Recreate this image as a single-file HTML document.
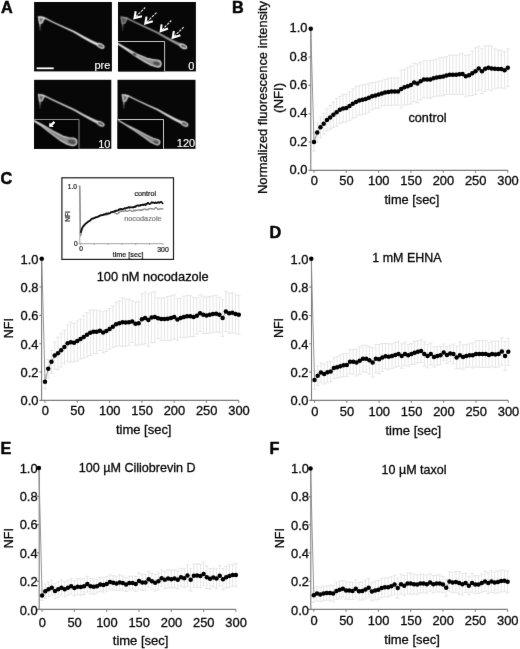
<!DOCTYPE html>
<html><head><meta charset="utf-8"><title>Figure</title>
<style>html,body{margin:0;padding:0;background:#fff}body{width:520px;height:649px;overflow:hidden}svg{display:block;font-family:"Liberation Sans", sans-serif}</style>
</head><body>
<svg width="520" height="649" viewBox="0 0 520 649">
<defs>
<filter id="b1" x="-25%" y="-25%" width="150%" height="150%" color-interpolation-filters="sRGB"><feConvolveMatrix order="3" kernelMatrix="1 2 1 2 4 2 1 2 1" divisor="16" edgeMode="duplicate" preserveAlpha="false"/></filter>
<filter id="b2" x="-25%" y="-25%" width="150%" height="150%" color-interpolation-filters="sRGB"><feConvolveMatrix order="3" kernelMatrix="1 2 1 2 4 2 1 2 1" divisor="16" edgeMode="duplicate" preserveAlpha="false" result="a"/><feConvolveMatrix in="a" order="3" kernelMatrix="1 2 1 2 4 2 1 2 1" divisor="16" edgeMode="duplicate" preserveAlpha="false"/></filter>
<filter id="bt" x="-25%" y="-25%" width="150%" height="150%" color-interpolation-filters="sRGB"><feConvolveMatrix order="3" kernelMatrix="0 1 0 1 4 1 0 1 0" divisor="8" edgeMode="duplicate" preserveAlpha="false"/></filter>
<filter id="soft" x="0" y="0" width="100%" height="100%" filterUnits="userSpaceOnUse" color-interpolation-filters="sRGB"><feConvolveMatrix order="3" kernelMatrix="0 1 0 1 14 1 0 1 0" divisor="18" edgeMode="duplicate" preserveAlpha="false"/></filter>
</defs>
<g filter="url(#soft)">
<rect width="520" height="649" fill="#fff"/>
<g id="panelA">
<rect x="34.1" y="2" width="77.8" height="69.4" fill="#070707"/>
<rect x="118" y="2" width="77.9" height="69.4" fill="#070707"/>
<rect x="34.1" y="79.8" width="77.2" height="69" fill="#070707"/>
<rect x="117.5" y="79.8" width="78" height="69" fill="#070707"/>
<g filter="url(#bt)">
<path d="M40 22.4L40 26.5" stroke="#969696" stroke-width="1.5" stroke-linecap="round"/>
<path d="M40 26.5L40 30" stroke="#505050" stroke-width="1.2" stroke-linecap="round"/>
<path d="M38.5 16.7L44.5 17.9L41.9 22.9L39.6 23.2Z" fill="#787878" stroke="#cdcdcd" stroke-width="1.5" stroke-linejoin="round"/>
<polygon points="40.46,17.66 43.74,18.32 52.93,22.76 64.51,28.24 73.6,32.58 82.98,38.14 90.52,42.43 97.06,45.83 98.34,43.17 91.68,40.17 84.02,36.26 74.4,31.02 65.09,26.96 53.47,21.64 44.26,17.08 40.74,16.34" fill="#e1e1e1"/>
<ellipse cx="100.7" cy="45.9" rx="3.6" ry="1.8" transform="rotate(27 100.7 45.9)" fill="#5f5f5f" stroke="#e1e1e1" stroke-width="1.2"/>
</g>
<g filter="url(#bt)">
<path d="M122.6 22.8L122.6 26.9" stroke="#616161" stroke-width="1.5" stroke-linecap="round"/>
<path d="M122.6 26.9L122.6 30.4" stroke="#343434" stroke-width="1.2" stroke-linecap="round"/>
<path d="M121.1 17.1L127.1 18.3L124.5 23.3L122.2 23.6Z" fill="#4e4e4e" stroke="#858585" stroke-width="1.5" stroke-linejoin="round"/>
<polygon points="123.06,18.06 126.34,18.72 135.53,23.16 147.11,28.64 156.2,32.98 165.58,38.54 173.12,42.83 179.66,46.23 180.94,43.57 174.28,40.57 166.62,36.66 157,31.42 147.69,27.36 136.07,22.04 126.86,17.48 123.34,16.74" fill="#969696"/>
<ellipse cx="183.3" cy="46.3" rx="3.6" ry="1.8" transform="rotate(27 183.3 46.3)" fill="#5f5f5f" stroke="#e1e1e1" stroke-width="1.2"/>
</g>
<g filter="url(#bt)">
<path d="M40 100.3L40 104.4" stroke="#8a8a8a" stroke-width="1.5" stroke-linecap="round"/>
<path d="M40 104.4L40 107.9" stroke="#494949" stroke-width="1.2" stroke-linecap="round"/>
<path d="M38.5 94.6L44.5 95.8L41.9 100.8L39.6 101.1Z" fill="#6e6e6e" stroke="#bcbcbc" stroke-width="1.5" stroke-linejoin="round"/>
<polygon points="40.46,95.56 43.74,96.22 52.93,100.66 64.51,106.14 73.6,110.48 82.98,116.04 90.52,120.33 97.06,123.73 98.34,121.07 91.68,118.07 84.02,114.16 74.4,108.92 65.09,104.86 53.47,99.54 44.26,94.98 40.74,94.24" fill="#cfcfcf"/>
<ellipse cx="100.7" cy="123.8" rx="3.6" ry="1.8" transform="rotate(27 100.7 123.8)" fill="#575757" stroke="#cfcfcf" stroke-width="1.2"/>
</g>
<g filter="url(#bt)">
<path d="M123.8 100.4L123.8 104.5" stroke="#8e8e8e" stroke-width="1.5" stroke-linecap="round"/>
<path d="M123.8 104.5L123.8 108" stroke="#4c4c4c" stroke-width="1.2" stroke-linecap="round"/>
<path d="M122.3 94.7L128.3 95.9L125.7 100.9L123.4 101.2Z" fill="#727272" stroke="#c2c2c2" stroke-width="1.5" stroke-linejoin="round"/>
<polygon points="124.26,95.66 127.54,96.32 136.73,100.76 148.31,106.24 157.4,110.58 166.78,116.14 174.32,120.43 180.86,123.83 182.14,121.17 175.48,118.17 167.82,114.26 158.2,109.02 148.89,104.96 137.27,99.64 128.06,95.08 124.54,94.34" fill="#d5d5d5"/>
<ellipse cx="184.5" cy="123.9" rx="3.6" ry="1.8" transform="rotate(27 184.5 123.9)" fill="#5a5a5a" stroke="#d5d5d5" stroke-width="1.2"/>
</g>
<rect x="118" y="41.5" width="46.6" height="29.9" fill="#050505"/>
<clipPath id="ci2"><rect x="118" y="41.5" width="46.6" height="29.9"/></clipPath>
<g clip-path="url(#ci2)"><g filter="url(#bt)">
<path d="M118.16 43.55L126.29 48.33L136.62 53.91L146.86 58.34L152.82 59.57L158.41 60.22A3.45 3.45 0 0 1 156.99 66.98L151.18 65.23L145.14 62.06L135.38 56.09L125.71 49.27L117.84 44.05Z" fill="#909090" stroke="#e0e0e0" stroke-width="1.1" stroke-linejoin="round"/>
<ellipse cx="134.6" cy="54.3" rx="2.0" ry="0.9" transform="rotate(31 134.6 54.3)" fill="#2c2c2c"/>
<ellipse cx="156.5" cy="63.5" rx="3.45" ry="1.86" transform="rotate(15 156.5 63.5)" fill="#505050"/>
</g></g>
<path d="M118 41.5H164.6V71.4" fill="none" stroke="#c4c4c4" stroke-width="1"/>
<rect x="34.1" y="119.5" width="44.9" height="29.3" fill="#050505"/>
<clipPath id="ci3"><rect x="34.1" y="119.5" width="44.9" height="29.3"/></clipPath>
<g clip-path="url(#ci3)"><g filter="url(#bt)">
<path d="M34.17 120.5L42.4 124.77L52.85 131.01L63.22 136.36L68.99 137.7L73.7 138.01A3.95 3.95 0 0 1 72.3 145.79L67.01 144.3L60.78 140.84L51.15 133.59L41.6 126.03L33.83 121.1Z" fill="#8a8a8a" stroke="#d8d8d8" stroke-width="1.1" stroke-linejoin="round"/>
<ellipse cx="71.8" cy="141.8" rx="3.95" ry="2.13" transform="rotate(15 71.8 141.8)" fill="#505050"/>
</g></g>
<path d="M34.1 119.5H79V148.8" fill="none" stroke="#8c8c8c" stroke-width="1"/>
<rect x="117.5" y="119.5" width="46" height="29.3" fill="#050505"/>
<clipPath id="ci4"><rect x="117.5" y="119.5" width="46" height="29.3"/></clipPath>
<g clip-path="url(#ci4)"><g filter="url(#bt)">
<path d="M118.35 120.21L126.13 124.68L136.48 129.78L146.85 135.19L153.02 138.19L158.19 139.84A2.65 2.65 0 0 1 156.21 144.76L150.98 142.21L145.15 138.01L135.52 131.42L125.87 125.12L118.25 120.39Z" fill="#848484" stroke="#cccccc" stroke-width="1.1" stroke-linejoin="round"/>
<ellipse cx="156" cy="142.2" rx="2.65" ry="1.43" transform="rotate(15 156 142.2)" fill="#505050"/>
</g></g>
<path d="M117.5 119.5H163.5V148.8" fill="none" stroke="#cacaca" stroke-width="1"/>
<g>
<path d="M135.7 11.3L134.5 18.1L142 16.2" fill="none" stroke="#fff" stroke-width="2.1" stroke-linejoin="miter" stroke-linecap="butt"/>
<path d="M135.78 16.83L145.2 7.5" stroke="#f0f0f0" stroke-width="1.1" stroke-dasharray="2.6 1.1" fill="none"/>
<path d="M146.5 16.6L145.3 23.4L152.8 21.2" fill="none" stroke="#fff" stroke-width="2.1" stroke-linejoin="miter" stroke-linecap="butt"/>
<path d="M146.66 22.09L156.6 12.5" stroke="#f0f0f0" stroke-width="1.1" stroke-dasharray="2.6 1.1" fill="none"/>
<path d="M161.6 24.3L160.7 31.2L168 28.6" fill="none" stroke="#fff" stroke-width="2.1" stroke-linejoin="miter" stroke-linecap="butt"/>
<path d="M161.97 29.92L171.3 20.5" stroke="#f0f0f0" stroke-width="1.1" stroke-dasharray="2.6 1.1" fill="none"/>
<path d="M173.9 31L172.7 37.8L180.4 35.3" fill="none" stroke="#fff" stroke-width="2.1" stroke-linejoin="miter" stroke-linecap="butt"/>
<path d="M174.01 36.53L183.6 27.2" stroke="#f0f0f0" stroke-width="1.1" stroke-dasharray="2.6 1.1" fill="none"/>
<path d="M49.0 126.8 L49.5 122.6 L50.8 123.8 L53.6 121.0 L55.3 122.8 L52.5 125.6 L53.6 126.9 Z" fill="#fff"/>
</g>
<rect x="36.6" y="67.4" width="17.1" height="1.8" fill="#fff"/>
<g font-size="11" fill="#fff" stroke="#fff" stroke-width="0.15" text-anchor="end">
<text x="110.4" y="68.7">pre</text>
<text x="194.4" y="69.6">0</text>
<text x="110.4" y="147.5">10</text>
<text x="195.2" y="147.2">120</text>
</g>
</g>
<g font-weight="bold" font-size="16.2" fill="#050505" stroke="#050505" stroke-width="0.5">
<text x="1" y="12.9" font-size="16.2">A</text>
<text x="231.9" y="12.8" font-size="16.2">B</text>
<text x="0.6" y="183.6" font-size="16.2">C</text>
<text x="269.4" y="237.8" font-size="16.2">D</text>
<text x="0.4" y="453.8" font-size="16.2">E</text>
<text x="269.6" y="453.8" font-size="16.2">F</text>
</g>
<g id="chartB">
<path d="M314 132.96V151.16M312.2 132.96h3.6M312.2 151.16h3.6M317.23 122.94V141.91M315.43 122.94h3.6M315.43 141.91h3.6M320.46 116.83V137.53M318.66 116.83h3.6M318.66 137.53h3.6M323.69 113.5V134.07M321.89 113.5h3.6M321.89 134.07h3.6M326.92 109V130.91M325.12 109h3.6M325.12 130.91h3.6M330.15 105.61V129.2M328.35 105.61h3.6M328.35 129.2h3.6M333.38 101.95V127.76M331.58 101.95h3.6M331.58 127.76h3.6M336.61 98.41V126.2M334.81 98.41h3.6M334.81 126.2h3.6M339.84 96.32V123.19M338.04 96.32h3.6M338.04 123.19h3.6M343.07 94.49V122.46M341.27 94.49h3.6M341.27 122.46h3.6M346.3 94.03V122.07M344.5 94.03h3.6M344.5 122.07h3.6M349.53 91.49V120.36M347.73 91.49h3.6M347.73 120.36h3.6M352.76 88.86V118.74M350.96 88.86h3.6M350.96 118.74h3.6M355.99 86.74V117.46M354.19 86.74h3.6M354.19 117.46h3.6M359.22 85.78V115.02M357.42 85.78h3.6M357.42 115.02h3.6M362.45 84.96V114.42M360.65 84.96h3.6M360.65 114.42h3.6M365.68 84.45V113.8M363.88 84.45h3.6M363.88 113.8h3.6M368.91 83.19V112.22M367.11 83.19h3.6M367.11 112.22h3.6M372.14 82.61V109.97M370.34 82.61h3.6M370.34 109.97h3.6M375.37 82.28V108.6M373.57 82.28h3.6M373.57 108.6h3.6M378.6 81.07V108.11M376.8 81.07h3.6M376.8 108.11h3.6M381.83 80.95V105.97M380.03 80.95h3.6M380.03 105.97h3.6M385.06 79.39V105.54M383.26 79.39h3.6M383.26 105.54h3.6M388.29 78.46V105.34M386.49 78.46h3.6M386.49 105.34h3.6M391.52 77.73V105.22M389.72 77.73h3.6M389.72 105.22h3.6M394.75 77.92V105.02M392.95 77.92h3.6M392.95 105.02h3.6M397.98 77.91V105.03M396.18 77.91h3.6M396.18 105.03h3.6M401.21 70.09V107.75M399.41 70.09h3.6M399.41 107.75h3.6M404.44 69.21V105.23M402.64 69.21h3.6M402.64 105.23h3.6M407.67 67.7V104.76M405.87 67.7h3.6M405.87 104.76h3.6M410.9 66.01V103.9M409.1 66.01h3.6M409.1 103.9h3.6M414.13 63.39V101.7M412.33 63.39h3.6M412.33 101.7h3.6M417.36 63.88V102.91M415.56 63.88h3.6M415.56 102.91h3.6M420.59 62.45V99.81M418.79 62.45h3.6M418.79 99.81h3.6M423.82 60.93V97.93M422.02 60.93h3.6M422.02 97.93h3.6M427.05 60.92V97.93M425.25 60.92h3.6M425.25 97.93h3.6M430.28 60.5V98.36M428.48 60.5h3.6M428.48 98.36h3.6M433.51 59.89V96.7M431.71 59.89h3.6M431.71 96.7h3.6M436.74 59.15V96.02M434.94 59.15h3.6M434.94 96.02h3.6M439.97 57.66V96.09M438.17 57.66h3.6M438.17 96.09h3.6M443.2 57.24V95.66M441.4 57.24h3.6M441.4 95.66h3.6M446.43 56.46V94.46M444.63 56.46h3.6M444.63 94.46h3.6M449.66 55.08V94.42M447.86 55.08h3.6M447.86 94.42h3.6M452.89 55.21V94.29M451.09 55.21h3.6M451.09 94.29h3.6M456.12 55.41V94.1M454.32 55.41h3.6M454.32 94.1h3.6M459.35 54.1V94.55M457.55 54.1h3.6M457.55 94.55h3.6M462.58 53.46V94.63M460.78 53.46h3.6M460.78 94.63h3.6M465.81 55.3V97.04M464.01 55.3h3.6M464.01 97.04h3.6M469.04 54.87V95.76M467.24 54.87h3.6M467.24 95.76h3.6M472.27 51V95.67M470.47 51h3.6M470.47 95.67h3.6M475.5 47.82V94.6M473.7 47.82h3.6M473.7 94.6h3.6M478.73 46.39V90.36M476.93 46.39h3.6M476.93 90.36h3.6M481.96 48.8V93.62M480.16 48.8h3.6M480.16 93.62h3.6M485.19 45.75V91.56M483.39 45.75h3.6M483.39 91.56h3.6M488.42 45.76V89.58M486.62 45.76h3.6M486.62 89.58h3.6M491.65 45.98V90.77M489.85 45.98h3.6M489.85 90.77h3.6M494.88 48.92V88.68M493.08 48.92h3.6M493.08 88.68h3.6M498.11 50.21V87.96M496.31 50.21h3.6M496.31 87.96h3.6M501.34 50.16V88.01M499.54 50.16h3.6M499.54 88.01h3.6M504.57 51.62V88.81M502.77 51.62h3.6M502.77 88.81h3.6M507.8 48.9V86.71M506 48.9h3.6M506 86.71h3.6" stroke="#e5e5e5" stroke-width="1" fill="none"/>
<path d="M310.8 28.7V170.4H507.8M310.8 170.4h-2.3M310.8 142.06h-2.3M310.8 113.72h-2.3M310.8 85.38h-2.3M310.8 57.04h-2.3M310.8 28.7h-2.3M314 170.4v2.3M346.3 170.4v2.3M378.6 170.4v2.3M410.9 170.4v2.3M443.2 170.4v2.3M475.5 170.4v2.3M507.8 170.4v2.3" stroke="#7d7d7d" stroke-width="1.1" fill="none"/>
<polyline points="310.77,28.7 314,142.06 317.23,132.42 320.46,127.18 323.69,123.78 326.92,119.95 330.15,117.4 333.38,114.85 336.61,112.3 339.84,109.75 343.07,108.48 346.3,108.05 349.53,105.93 352.76,103.8 355.99,102.1 359.22,100.4 362.45,99.69 365.68,99.12 368.91,97.71 372.14,96.29 375.37,95.44 378.6,94.59 381.83,93.46 385.06,92.46 388.29,91.9 391.52,91.47 394.75,91.47 397.98,91.47 401.21,88.92 404.44,87.22 407.67,86.23 410.9,84.95 414.13,82.55 417.36,83.4 420.59,81.13 423.82,79.43 427.05,79.43 430.28,79.43 433.51,78.29 436.74,77.59 439.97,76.88 443.2,76.45 446.43,75.46 449.66,74.75 452.89,74.75 456.12,74.75 459.35,74.33 462.58,74.04 465.81,76.17 469.04,75.32 472.27,73.34 475.5,71.21 478.73,68.38 481.96,71.21 485.19,68.66 488.42,67.67 491.65,68.38 494.88,68.8 498.11,69.08 501.34,69.08 504.57,70.22 507.8,67.81" stroke="#8a8a8a" stroke-width="0.9" fill="none"/>
<circle cx="310.77" cy="28.7" r="2.25"/>
<circle cx="314" cy="142.06" r="2.25"/>
<circle cx="317.23" cy="132.42" r="2.25"/>
<circle cx="320.46" cy="127.18" r="2.25"/>
<circle cx="323.69" cy="123.78" r="2.25"/>
<circle cx="326.92" cy="119.95" r="2.25"/>
<circle cx="330.15" cy="117.4" r="2.25"/>
<circle cx="333.38" cy="114.85" r="2.25"/>
<circle cx="336.61" cy="112.3" r="2.25"/>
<circle cx="339.84" cy="109.75" r="2.25"/>
<circle cx="343.07" cy="108.48" r="2.25"/>
<circle cx="346.3" cy="108.05" r="2.25"/>
<circle cx="349.53" cy="105.93" r="2.25"/>
<circle cx="352.76" cy="103.8" r="2.25"/>
<circle cx="355.99" cy="102.1" r="2.25"/>
<circle cx="359.22" cy="100.4" r="2.25"/>
<circle cx="362.45" cy="99.69" r="2.25"/>
<circle cx="365.68" cy="99.12" r="2.25"/>
<circle cx="368.91" cy="97.71" r="2.25"/>
<circle cx="372.14" cy="96.29" r="2.25"/>
<circle cx="375.37" cy="95.44" r="2.25"/>
<circle cx="378.6" cy="94.59" r="2.25"/>
<circle cx="381.83" cy="93.46" r="2.25"/>
<circle cx="385.06" cy="92.46" r="2.25"/>
<circle cx="388.29" cy="91.9" r="2.25"/>
<circle cx="391.52" cy="91.47" r="2.25"/>
<circle cx="394.75" cy="91.47" r="2.25"/>
<circle cx="397.98" cy="91.47" r="2.25"/>
<circle cx="401.21" cy="88.92" r="2.25"/>
<circle cx="404.44" cy="87.22" r="2.25"/>
<circle cx="407.67" cy="86.23" r="2.25"/>
<circle cx="410.9" cy="84.95" r="2.25"/>
<circle cx="414.13" cy="82.55" r="2.25"/>
<circle cx="417.36" cy="83.4" r="2.25"/>
<circle cx="420.59" cy="81.13" r="2.25"/>
<circle cx="423.82" cy="79.43" r="2.25"/>
<circle cx="427.05" cy="79.43" r="2.25"/>
<circle cx="430.28" cy="79.43" r="2.25"/>
<circle cx="433.51" cy="78.29" r="2.25"/>
<circle cx="436.74" cy="77.59" r="2.25"/>
<circle cx="439.97" cy="76.88" r="2.25"/>
<circle cx="443.2" cy="76.45" r="2.25"/>
<circle cx="446.43" cy="75.46" r="2.25"/>
<circle cx="449.66" cy="74.75" r="2.25"/>
<circle cx="452.89" cy="74.75" r="2.25"/>
<circle cx="456.12" cy="74.75" r="2.25"/>
<circle cx="459.35" cy="74.33" r="2.25"/>
<circle cx="462.58" cy="74.04" r="2.25"/>
<circle cx="465.81" cy="76.17" r="2.25"/>
<circle cx="469.04" cy="75.32" r="2.25"/>
<circle cx="472.27" cy="73.34" r="2.25"/>
<circle cx="475.5" cy="71.21" r="2.25"/>
<circle cx="478.73" cy="68.38" r="2.25"/>
<circle cx="481.96" cy="71.21" r="2.25"/>
<circle cx="485.19" cy="68.66" r="2.25"/>
<circle cx="488.42" cy="67.67" r="2.25"/>
<circle cx="491.65" cy="68.38" r="2.25"/>
<circle cx="494.88" cy="68.8" r="2.25"/>
<circle cx="498.11" cy="69.08" r="2.25"/>
<circle cx="501.34" cy="69.08" r="2.25"/>
<circle cx="504.57" cy="70.22" r="2.25"/>
<circle cx="507.8" cy="67.81" r="2.25"/>
<g font-size="12.9" fill="#080808" stroke="#080808" stroke-width="0.3">
<text x="307.4" y="174.2" font-size="12.9" text-anchor="end">0.0</text>
<text x="307.4" y="145.8" font-size="12.9" text-anchor="end">0.2</text>
<text x="307.4" y="117.4" font-size="12.9" text-anchor="end">0.4</text>
<text x="307.4" y="89" font-size="12.9" text-anchor="end">0.6</text>
<text x="307.4" y="60.6" font-size="12.9" text-anchor="end">0.8</text>
<text x="307.4" y="32.2" font-size="12.9" text-anchor="end">1.0</text>
<text x="314.3" y="185.2" font-size="12.9" text-anchor="middle">0</text>
<text x="346.5" y="185.2" font-size="12.9" text-anchor="middle">50</text>
<text x="378.8" y="185.2" font-size="12.9" text-anchor="middle">100</text>
<text x="411.1" y="185.2" font-size="12.9" text-anchor="middle">150</text>
<text x="443.4" y="185.2" font-size="12.9" text-anchor="middle">200</text>
<text x="475.7" y="185.2" font-size="12.9" text-anchor="middle">250</text>
<text x="508" y="185.2" font-size="12.9" text-anchor="middle">300</text>
</g>
</g>
<g id="chartC">
<path d="M45 374.84V388.83M43.2 374.84h3.6M43.2 388.83h3.6M48.23 359.32V378M46.43 359.32h3.6M46.43 378h3.6M51.46 350.45V373.27M49.66 350.45h3.6M49.66 373.27h3.6M54.69 341.94V369.02M52.89 341.94h3.6M52.89 369.02h3.6M57.92 337.11V369.6M56.12 337.11h3.6M56.12 369.6h3.6M61.15 333.55V366.92M59.35 333.55h3.6M59.35 366.92h3.6M64.38 330.18V363.78M62.58 330.18h3.6M62.58 363.78h3.6M67.61 324.87V361.44M65.81 324.87h3.6M65.81 361.44h3.6M70.84 322.25V362.35M69.04 322.25h3.6M69.04 362.35h3.6M74.07 323.55V361.9M72.27 323.55h3.6M72.27 361.9h3.6M77.3 320.86V360.91M75.5 320.86h3.6M75.5 360.91h3.6M80.53 319.14V358.95M78.73 319.14h3.6M78.73 358.95h3.6M83.76 315.58V358.26M81.96 315.58h3.6M81.96 358.26h3.6M86.99 312.51V357.08M85.19 312.51h3.6M85.19 357.08h3.6M90.22 310.2V355.42M88.42 310.2h3.6M88.42 355.42h3.6M93.45 309.84V353.79M91.65 309.84h3.6M91.65 353.79h3.6M96.68 310.22V353.42M94.88 310.22h3.6M94.88 353.42h3.6M99.91 310.82V350.54M98.11 310.82h3.6M98.11 350.54h3.6M103.14 311.75V353.02M101.34 311.75h3.6M101.34 353.02h3.6M106.37 310.76V351.45M104.57 310.76h3.6M104.57 351.45h3.6M109.6 308.57V349.39M107.8 308.57h3.6M107.8 349.39h3.6M112.83 306.19V347.53M111.03 306.19h3.6M111.03 347.53h3.6M116.06 302.22V346.39M114.26 302.22h3.6M114.26 346.39h3.6M119.29 300.68V345.95M117.49 300.68h3.6M117.49 345.95h3.6M122.52 297.82V346.54M120.72 297.82h3.6M120.72 346.54h3.6M125.75 299.08V346.14M123.95 299.08h3.6M123.95 346.14h3.6M128.98 298.97V345.39M127.18 298.97h3.6M127.18 345.39h3.6M132.21 300.71V342.52M130.41 300.71h3.6M130.41 342.52h3.6M135.44 302.28V345.2M133.64 302.28h3.6M133.64 345.2h3.6M138.67 301.7V344.93M136.87 301.7h3.6M136.87 344.93h3.6M141.9 293.74V344.67M140.1 293.74h3.6M140.1 344.67h3.6M145.13 291.98V343.89M143.33 291.98h3.6M143.33 343.89h3.6M148.36 293.9V346.21M146.56 293.9h3.6M146.56 346.21h3.6M151.59 292.4V342.62M149.79 292.4h3.6M149.79 342.62h3.6M154.82 291.58V342.29M153.02 291.58h3.6M153.02 342.29h3.6M158.05 298.01V338.7M156.25 298.01h3.6M156.25 338.7h3.6M161.28 297.97V340.16M159.48 297.97h3.6M159.48 340.16h3.6M164.51 297.86V340.27M162.71 297.86h3.6M162.71 340.27h3.6M167.74 296.52V340.76M165.94 296.52h3.6M165.94 340.76h3.6M170.97 295.77V340.09M169.17 295.77h3.6M169.17 340.09h3.6M174.2 294.69V339.19M172.4 294.69h3.6M172.4 339.19h3.6M177.43 298.63V340.35M175.63 298.63h3.6M175.63 340.35h3.6M180.66 298.11V337.75M178.86 298.11h3.6M178.86 337.75h3.6M183.89 296.26V337.61M182.09 296.26h3.6M182.09 337.61h3.6M187.12 295.33V337.13M185.32 295.33h3.6M185.32 337.13h3.6M190.35 295.71V336.75M188.55 295.71h3.6M188.55 336.75h3.6M193.58 297.35V336.52M191.78 297.35h3.6M191.78 336.52h3.6M196.81 297.83V333.78M195.01 297.83h3.6M195.01 333.78h3.6M200.04 295.03V331.48M198.24 295.03h3.6M198.24 331.48h3.6M203.27 296.1V333.53M201.47 296.1h3.6M201.47 333.53h3.6M206.5 297V333.76M204.7 297h3.6M204.7 333.76h3.6M209.73 296.66V332.97M207.93 296.66h3.6M207.93 332.97h3.6M212.96 295.82V332.39M211.16 295.82h3.6M211.16 332.39h3.6M216.19 295.32V332.04M214.39 295.32h3.6M214.39 332.04h3.6M219.42 297.24V332.38M217.62 297.24h3.6M217.62 332.38h3.6M222.65 299.29V336.58M220.85 299.29h3.6M220.85 336.58h3.6M225.88 291.62V331.49M224.08 291.62h3.6M224.08 331.49h3.6M229.11 293.19V333.32M227.31 293.19h3.6M227.31 333.32h3.6M232.34 292.73V332.65M230.54 292.73h3.6M230.54 332.65h3.6M235.57 294.7V333.51M233.77 294.7h3.6M233.77 333.51h3.6M238.8 295.4V334.23M237 295.4h3.6M237 334.23h3.6" stroke="#e5e5e5" stroke-width="1" fill="none"/>
<path d="M41.6 258.7V400.4H238.8M41.6 400.4h-2.3M41.6 372.06h-2.3M41.6 343.72h-2.3M41.6 315.38h-2.3M41.6 287.04h-2.3M41.6 258.7h-2.3M45 400.4v2.3M77.3 400.4v2.3M109.6 400.4v2.3M141.9 400.4v2.3M174.2 400.4v2.3M206.5 400.4v2.3M238.8 400.4v2.3" stroke="#7d7d7d" stroke-width="1.1" fill="none"/>
<polyline points="41.77,258.7 45,381.84 48.23,368.66 51.46,361.86 54.69,355.48 57.92,353.36 61.15,350.24 64.38,346.98 67.61,343.15 70.84,342.3 74.07,342.73 77.3,340.89 80.53,339.04 83.76,336.92 86.99,334.79 90.22,332.81 93.45,331.82 96.68,331.82 99.91,330.68 103.14,332.38 106.37,331.11 109.6,328.98 112.83,326.86 116.06,324.31 119.29,323.32 122.52,322.18 125.75,322.61 128.98,322.18 132.21,321.61 135.44,323.74 138.67,323.32 141.9,319.21 145.13,317.93 148.36,320.06 151.59,317.51 154.82,316.94 158.05,318.36 161.28,319.06 164.51,319.06 167.74,318.64 170.97,317.93 174.2,316.94 177.43,319.49 180.66,317.93 183.89,316.94 187.12,316.23 190.35,316.23 193.58,316.94 196.81,315.81 200.04,313.25 203.27,314.81 206.5,315.38 209.73,314.81 212.96,314.1 216.19,313.68 219.42,314.81 222.65,317.93 225.88,311.55 229.11,313.25 232.34,312.69 235.57,314.1 238.8,314.81" stroke="#8a8a8a" stroke-width="0.9" fill="none"/>
<circle cx="41.77" cy="258.7" r="2.25"/>
<circle cx="45" cy="381.84" r="2.25"/>
<circle cx="48.23" cy="368.66" r="2.25"/>
<circle cx="51.46" cy="361.86" r="2.25"/>
<circle cx="54.69" cy="355.48" r="2.25"/>
<circle cx="57.92" cy="353.36" r="2.25"/>
<circle cx="61.15" cy="350.24" r="2.25"/>
<circle cx="64.38" cy="346.98" r="2.25"/>
<circle cx="67.61" cy="343.15" r="2.25"/>
<circle cx="70.84" cy="342.3" r="2.25"/>
<circle cx="74.07" cy="342.73" r="2.25"/>
<circle cx="77.3" cy="340.89" r="2.25"/>
<circle cx="80.53" cy="339.04" r="2.25"/>
<circle cx="83.76" cy="336.92" r="2.25"/>
<circle cx="86.99" cy="334.79" r="2.25"/>
<circle cx="90.22" cy="332.81" r="2.25"/>
<circle cx="93.45" cy="331.82" r="2.25"/>
<circle cx="96.68" cy="331.82" r="2.25"/>
<circle cx="99.91" cy="330.68" r="2.25"/>
<circle cx="103.14" cy="332.38" r="2.25"/>
<circle cx="106.37" cy="331.11" r="2.25"/>
<circle cx="109.6" cy="328.98" r="2.25"/>
<circle cx="112.83" cy="326.86" r="2.25"/>
<circle cx="116.06" cy="324.31" r="2.25"/>
<circle cx="119.29" cy="323.32" r="2.25"/>
<circle cx="122.52" cy="322.18" r="2.25"/>
<circle cx="125.75" cy="322.61" r="2.25"/>
<circle cx="128.98" cy="322.18" r="2.25"/>
<circle cx="132.21" cy="321.61" r="2.25"/>
<circle cx="135.44" cy="323.74" r="2.25"/>
<circle cx="138.67" cy="323.32" r="2.25"/>
<circle cx="141.9" cy="319.21" r="2.25"/>
<circle cx="145.13" cy="317.93" r="2.25"/>
<circle cx="148.36" cy="320.06" r="2.25"/>
<circle cx="151.59" cy="317.51" r="2.25"/>
<circle cx="154.82" cy="316.94" r="2.25"/>
<circle cx="158.05" cy="318.36" r="2.25"/>
<circle cx="161.28" cy="319.06" r="2.25"/>
<circle cx="164.51" cy="319.06" r="2.25"/>
<circle cx="167.74" cy="318.64" r="2.25"/>
<circle cx="170.97" cy="317.93" r="2.25"/>
<circle cx="174.2" cy="316.94" r="2.25"/>
<circle cx="177.43" cy="319.49" r="2.25"/>
<circle cx="180.66" cy="317.93" r="2.25"/>
<circle cx="183.89" cy="316.94" r="2.25"/>
<circle cx="187.12" cy="316.23" r="2.25"/>
<circle cx="190.35" cy="316.23" r="2.25"/>
<circle cx="193.58" cy="316.94" r="2.25"/>
<circle cx="196.81" cy="315.81" r="2.25"/>
<circle cx="200.04" cy="313.25" r="2.25"/>
<circle cx="203.27" cy="314.81" r="2.25"/>
<circle cx="206.5" cy="315.38" r="2.25"/>
<circle cx="209.73" cy="314.81" r="2.25"/>
<circle cx="212.96" cy="314.1" r="2.25"/>
<circle cx="216.19" cy="313.68" r="2.25"/>
<circle cx="219.42" cy="314.81" r="2.25"/>
<circle cx="222.65" cy="317.93" r="2.25"/>
<circle cx="225.88" cy="311.55" r="2.25"/>
<circle cx="229.11" cy="313.25" r="2.25"/>
<circle cx="232.34" cy="312.69" r="2.25"/>
<circle cx="235.57" cy="314.1" r="2.25"/>
<circle cx="238.8" cy="314.81" r="2.25"/>
<g font-size="12.9" fill="#080808" stroke="#080808" stroke-width="0.3">
<text x="38.4" y="405.2" font-size="12.9" text-anchor="end">0.0</text>
<text x="38.4" y="376.86" font-size="12.9" text-anchor="end">0.2</text>
<text x="38.4" y="348.52" font-size="12.9" text-anchor="end">0.4</text>
<text x="38.4" y="320.18" font-size="12.9" text-anchor="end">0.6</text>
<text x="38.4" y="291.84" font-size="12.9" text-anchor="end">0.8</text>
<text x="38.4" y="263.5" font-size="12.9" text-anchor="end">1.0</text>
<text x="45.3" y="415.3" font-size="12.9" text-anchor="middle">0</text>
<text x="77.5" y="415.3" font-size="12.9" text-anchor="middle">50</text>
<text x="109.8" y="415.3" font-size="12.9" text-anchor="middle">100</text>
<text x="142.1" y="415.3" font-size="12.9" text-anchor="middle">150</text>
<text x="174.4" y="415.3" font-size="12.9" text-anchor="middle">200</text>
<text x="206.7" y="415.3" font-size="12.9" text-anchor="middle">250</text>
<text x="239" y="415.3" font-size="12.9" text-anchor="middle">300</text>
</g>
</g>
<g id="chartD">
<path d="M314.5 370.79V389.23M312.7 370.79h3.6M312.7 389.23h3.6M317.73 365.97V385.55M315.93 365.97h3.6M315.93 385.55h3.6M320.96 362.9V382.11M319.16 362.9h3.6M319.16 382.11h3.6M324.19 364.18V383.95M322.39 364.18h3.6M322.39 383.95h3.6M327.42 362.1V382.63M325.62 362.1h3.6M325.62 382.63h3.6M330.65 361.21V381.81M328.85 361.21h3.6M328.85 381.81h3.6M333.88 357.61V378.62M332.08 357.61h3.6M332.08 378.62h3.6M337.11 356.5V378.03M335.31 356.5h3.6M335.31 378.03h3.6M340.34 354.93V377.34M338.54 354.93h3.6M338.54 377.34h3.6M343.57 353.69V376.59M341.77 353.69h3.6M341.77 376.59h3.6M346.8 353.46V376.54M345 353.46h3.6M345 376.54h3.6M350.03 349.63V373.86M348.23 349.63h3.6M348.23 373.86h3.6M353.26 349.5V373.98M351.46 349.5h3.6M351.46 373.98h3.6M356.49 348.97V375.94M354.69 348.97h3.6M354.69 375.94h3.6M359.72 347.01V374.5M357.92 347.01h3.6M357.92 374.5h3.6M362.95 345.37V372.17M361.15 345.37h3.6M361.15 372.17h3.6M366.18 345.13V372.13M364.38 345.13h3.6M364.38 372.13h3.6M369.41 346.58V374.08M367.61 346.58h3.6M367.61 374.08h3.6M372.64 347.86V377.04M370.84 347.86h3.6M370.84 377.04h3.6M375.87 344.29V372.97M374.07 344.29h3.6M374.07 372.97h3.6M379.1 344.58V373.81M377.3 344.58h3.6M377.3 373.81h3.6M382.33 343.52V371.47M380.53 343.52h3.6M380.53 371.47h3.6M385.56 343.51V368.93M383.76 343.51h3.6M383.76 368.93h3.6M388.79 343.92V369.38M386.99 343.92h3.6M386.99 369.38h3.6M392.02 343.7V368.45M390.22 343.7h3.6M390.22 368.45h3.6M395.25 342.56V367.34M393.45 342.56h3.6M393.45 367.34h3.6M398.48 341.35V366.56M396.68 341.35h3.6M396.68 366.56h3.6M401.71 343.88V368.28M399.91 343.88h3.6M399.91 368.28h3.6M404.94 342.13V365.78M403.14 342.13h3.6M403.14 365.78h3.6M408.17 344.59V366.15M406.37 344.59h3.6M406.37 366.15h3.6M411.4 343.28V364.63M409.6 343.28h3.6M409.6 364.63h3.6M414.63 341.43V364.22M412.83 341.43h3.6M412.83 364.22h3.6M417.86 340.76V362.9M416.06 340.76h3.6M416.06 362.9h3.6M421.09 339.77V362.48M419.29 339.77h3.6M419.29 362.48h3.6M424.32 341.68V366.24M422.52 341.68h3.6M422.52 366.24h3.6M427.55 344.36V367.8M425.75 344.36h3.6M425.75 367.8h3.6M430.78 343.01V364.9M428.98 343.01h3.6M428.98 364.9h3.6M434.01 347.02V367.12M432.21 347.02h3.6M432.21 367.12h3.6M437.24 346.66V365.49M435.44 346.66h3.6M435.44 365.49h3.6M440.47 346.45V364.29M438.67 346.45h3.6M438.67 364.29h3.6M443.7 344.04V360.75M441.9 344.04h3.6M441.9 360.75h3.6M446.93 346.53V363.36M445.13 346.53h3.6M445.13 363.36h3.6M450.16 345.23V361.83M448.36 345.23h3.6M448.36 361.83h3.6M453.39 344.2V363.71M451.59 344.2h3.6M451.59 363.71h3.6M456.62 346.1V368.89M454.82 346.1h3.6M454.82 368.89h3.6M459.85 341.95V368.8M458.05 341.95h3.6M458.05 368.8h3.6M463.08 344.87V369.27M461.28 344.87h3.6M461.28 369.27h3.6M466.31 344.77V367.39M464.51 344.77h3.6M464.51 367.39h3.6M469.54 343.74V367M467.74 343.74h3.6M467.74 367h3.6M472.77 342.72V368.02M470.97 342.72h3.6M470.97 368.02h3.6M476 340.81V367.1M474.2 340.81h3.6M474.2 367.1h3.6M479.23 340.63V367.28M477.43 340.63h3.6M477.43 367.28h3.6M482.46 340.39V367.52M480.66 340.39h3.6M480.66 367.52h3.6M485.69 340.6V367.31M483.89 340.6h3.6M483.89 367.31h3.6M488.92 342.28V367.62M487.12 342.28h3.6M487.12 367.62h3.6M492.15 341.14V366.77M490.35 341.14h3.6M490.35 366.77h3.6M495.38 341.57V367.47M493.58 341.57h3.6M493.58 367.47h3.6M498.61 340.93V366.98M496.81 340.93h3.6M496.81 366.98h3.6M501.84 337.63V365.18M500.04 337.63h3.6M500.04 365.18h3.6M505.07 341.63V370.53M503.27 341.63h3.6M503.27 370.53h3.6M508.3 338.33V365.33M506.5 338.33h3.6M506.5 365.33h3.6" stroke="#e5e5e5" stroke-width="1" fill="none"/>
<path d="M311.5 258.8V400.4H508.3M311.5 400.4h-2.3M311.5 372.08h-2.3M311.5 343.76h-2.3M311.5 315.44h-2.3M311.5 287.12h-2.3M311.5 258.8h-2.3M314.5 400.4v2.3M346.8 400.4v2.3M379.1 400.4v2.3M411.4 400.4v2.3M443.7 400.4v2.3M476 400.4v2.3M508.3 400.4v2.3" stroke="#7d7d7d" stroke-width="1.1" fill="none"/>
<polyline points="311.27,258.8 314.5,380.01 317.73,375.76 320.96,372.5 324.19,374.06 327.42,372.36 330.65,371.51 333.88,368.12 337.11,367.27 340.34,366.13 343.57,365.14 346.8,365 350.03,361.74 353.26,361.74 356.49,362.45 359.72,360.75 362.95,358.77 366.18,358.63 369.41,360.33 372.64,362.45 375.87,358.63 379.1,359.19 382.33,357.5 385.56,356.22 388.79,356.65 392.02,356.08 395.25,354.95 398.48,353.96 401.71,356.08 404.94,353.96 408.17,355.37 411.4,353.96 414.63,352.82 417.86,351.83 421.09,351.12 424.32,353.96 427.55,356.08 430.78,353.96 434.01,357.07 437.24,356.08 440.47,355.37 443.7,352.4 446.93,354.95 450.16,353.53 453.39,353.96 456.62,357.5 459.85,355.37 463.08,357.07 466.31,356.08 469.54,355.37 472.77,355.37 476,353.96 479.23,353.96 482.46,353.96 485.69,353.96 488.92,354.95 492.15,353.96 495.38,354.52 498.61,353.96 501.84,351.41 505.07,356.08 508.3,351.83" stroke="#8a8a8a" stroke-width="0.9" fill="none"/>
<circle cx="311.27" cy="258.8" r="2.25"/>
<circle cx="314.5" cy="380.01" r="2.25"/>
<circle cx="317.73" cy="375.76" r="2.25"/>
<circle cx="320.96" cy="372.5" r="2.25"/>
<circle cx="324.19" cy="374.06" r="2.25"/>
<circle cx="327.42" cy="372.36" r="2.25"/>
<circle cx="330.65" cy="371.51" r="2.25"/>
<circle cx="333.88" cy="368.12" r="2.25"/>
<circle cx="337.11" cy="367.27" r="2.25"/>
<circle cx="340.34" cy="366.13" r="2.25"/>
<circle cx="343.57" cy="365.14" r="2.25"/>
<circle cx="346.8" cy="365" r="2.25"/>
<circle cx="350.03" cy="361.74" r="2.25"/>
<circle cx="353.26" cy="361.74" r="2.25"/>
<circle cx="356.49" cy="362.45" r="2.25"/>
<circle cx="359.72" cy="360.75" r="2.25"/>
<circle cx="362.95" cy="358.77" r="2.25"/>
<circle cx="366.18" cy="358.63" r="2.25"/>
<circle cx="369.41" cy="360.33" r="2.25"/>
<circle cx="372.64" cy="362.45" r="2.25"/>
<circle cx="375.87" cy="358.63" r="2.25"/>
<circle cx="379.1" cy="359.19" r="2.25"/>
<circle cx="382.33" cy="357.5" r="2.25"/>
<circle cx="385.56" cy="356.22" r="2.25"/>
<circle cx="388.79" cy="356.65" r="2.25"/>
<circle cx="392.02" cy="356.08" r="2.25"/>
<circle cx="395.25" cy="354.95" r="2.25"/>
<circle cx="398.48" cy="353.96" r="2.25"/>
<circle cx="401.71" cy="356.08" r="2.25"/>
<circle cx="404.94" cy="353.96" r="2.25"/>
<circle cx="408.17" cy="355.37" r="2.25"/>
<circle cx="411.4" cy="353.96" r="2.25"/>
<circle cx="414.63" cy="352.82" r="2.25"/>
<circle cx="417.86" cy="351.83" r="2.25"/>
<circle cx="421.09" cy="351.12" r="2.25"/>
<circle cx="424.32" cy="353.96" r="2.25"/>
<circle cx="427.55" cy="356.08" r="2.25"/>
<circle cx="430.78" cy="353.96" r="2.25"/>
<circle cx="434.01" cy="357.07" r="2.25"/>
<circle cx="437.24" cy="356.08" r="2.25"/>
<circle cx="440.47" cy="355.37" r="2.25"/>
<circle cx="443.7" cy="352.4" r="2.25"/>
<circle cx="446.93" cy="354.95" r="2.25"/>
<circle cx="450.16" cy="353.53" r="2.25"/>
<circle cx="453.39" cy="353.96" r="2.25"/>
<circle cx="456.62" cy="357.5" r="2.25"/>
<circle cx="459.85" cy="355.37" r="2.25"/>
<circle cx="463.08" cy="357.07" r="2.25"/>
<circle cx="466.31" cy="356.08" r="2.25"/>
<circle cx="469.54" cy="355.37" r="2.25"/>
<circle cx="472.77" cy="355.37" r="2.25"/>
<circle cx="476" cy="353.96" r="2.25"/>
<circle cx="479.23" cy="353.96" r="2.25"/>
<circle cx="482.46" cy="353.96" r="2.25"/>
<circle cx="485.69" cy="353.96" r="2.25"/>
<circle cx="488.92" cy="354.95" r="2.25"/>
<circle cx="492.15" cy="353.96" r="2.25"/>
<circle cx="495.38" cy="354.52" r="2.25"/>
<circle cx="498.61" cy="353.96" r="2.25"/>
<circle cx="501.84" cy="351.41" r="2.25"/>
<circle cx="505.07" cy="356.08" r="2.25"/>
<circle cx="508.3" cy="351.83" r="2.25"/>
<g font-size="12.9" fill="#080808" stroke="#080808" stroke-width="0.3">
<text x="308.5" y="405.1" font-size="12.9" text-anchor="end">0.0</text>
<text x="308.5" y="376.8" font-size="12.9" text-anchor="end">0.2</text>
<text x="308.5" y="348.5" font-size="12.9" text-anchor="end">0.4</text>
<text x="308.5" y="320.2" font-size="12.9" text-anchor="end">0.6</text>
<text x="308.5" y="291.9" font-size="12.9" text-anchor="end">0.8</text>
<text x="308.5" y="263.6" font-size="12.9" text-anchor="end">1.0</text>
<text x="314.8" y="415.8" font-size="12.9" text-anchor="middle">0</text>
<text x="347" y="415.8" font-size="12.9" text-anchor="middle">50</text>
<text x="379.3" y="415.8" font-size="12.9" text-anchor="middle">100</text>
<text x="411.6" y="415.8" font-size="12.9" text-anchor="middle">150</text>
<text x="443.9" y="415.8" font-size="12.9" text-anchor="middle">200</text>
<text x="476.2" y="415.8" font-size="12.9" text-anchor="middle">250</text>
<text x="508.5" y="415.8" font-size="12.9" text-anchor="middle">300</text>
</g>
</g>
<g id="chartE">
<path d="M42.1 590.54V600.56M40.3 590.54h3.6M40.3 600.56h3.6M45.33 584.02V598.6M43.53 584.02h3.6M43.53 598.6h3.6M48.56 582.17V596.5M46.76 582.17h3.6M46.76 596.5h3.6M51.79 580.1V595.18M49.99 580.1h3.6M49.99 595.18h3.6M55.02 583.2V598.58M53.22 583.2h3.6M53.22 598.58h3.6M58.25 581.57V597.1M56.45 581.57h3.6M56.45 597.1h3.6M61.48 580.12V595.16M59.68 580.12h3.6M59.68 595.16h3.6M64.71 581.82V596.85M62.91 581.82h3.6M62.91 596.85h3.6M67.94 580.06V595.22M66.14 580.06h3.6M66.14 595.22h3.6M71.17 578.6V593.85M69.37 578.6h3.6M69.37 593.85h3.6M74.4 580.37V595.76M72.6 580.37h3.6M72.6 595.76h3.6M77.63 578.67V594.63M75.83 578.67h3.6M75.83 594.63h3.6M80.86 578.94V595.21M79.06 578.94h3.6M79.06 595.21h3.6M84.09 578.13V594.33M82.29 578.13h3.6M82.29 594.33h3.6M87.32 576.21V592.01M85.52 576.21h3.6M85.52 592.01h3.6M90.55 578.48V593.97M88.75 578.48h3.6M88.75 593.97h3.6M93.78 579.14V594.16M91.98 579.14h3.6M91.98 594.16h3.6M97.01 579.38V593.07M95.21 579.38h3.6M95.21 593.07h3.6M100.24 577.49V591.57M98.44 577.49h3.6M98.44 591.57h3.6M103.47 577.73V592.18M101.67 577.73h3.6M101.67 592.18h3.6M106.7 576.74V591.2M104.9 576.74h3.6M104.9 591.2h3.6M109.93 574.71V589.27M108.13 574.71h3.6M108.13 589.27h3.6M113.16 575.63V590.04M111.36 575.63h3.6M111.36 590.04h3.6M116.39 576.35V590.59M114.59 576.35h3.6M114.59 590.59h3.6M119.62 574.92V589.91M117.82 574.92h3.6M117.82 589.91h3.6M122.85 576.05V590.05M121.05 576.05h3.6M121.05 590.05h3.6M126.08 577.57V591.49M124.28 577.57h3.6M124.28 591.49h3.6M129.31 576.28V589.82M127.51 576.28h3.6M127.51 589.82h3.6M132.54 576.19V589.9M130.74 576.19h3.6M130.74 589.9h3.6M135.77 576.61V591.32M133.97 576.61h3.6M133.97 591.32h3.6M139 572.77V589.09M137.2 572.77h3.6M137.2 589.09h3.6M142.23 574.35V590.48M140.43 574.35h3.6M140.43 590.48h3.6M145.46 574.63V590.19M143.66 574.63h3.6M143.66 590.19h3.6M148.69 571.45V587.02M146.89 571.45h3.6M146.89 587.02h3.6M151.92 573.53V589.18M150.12 573.53h3.6M150.12 589.18h3.6M155.15 574.56V591.11M153.35 574.56h3.6M153.35 591.11h3.6M158.38 573V589.7M156.58 573h3.6M156.58 589.7h3.6M161.61 570.05V586.29M159.81 570.05h3.6M159.81 586.29h3.6M164.84 571.2V588.54M163.04 571.2h3.6M163.04 588.54h3.6M168.07 569.69V587.5M166.27 569.69h3.6M166.27 587.5h3.6M171.3 570.39V588.08M169.5 570.39h3.6M169.5 588.08h3.6M174.53 569.8V587.39M172.73 569.8h3.6M172.73 587.39h3.6M177.76 570.82V588.92M175.96 570.82h3.6M175.96 588.92h3.6M180.99 568.26V586.1M179.19 568.26h3.6M179.19 586.1h3.6M184.22 568.75V587.59M182.42 568.75h3.6M182.42 587.59h3.6M187.45 564.69V586.29M185.65 564.69h3.6M185.65 586.29h3.6M190.68 568.67V591.06M188.88 568.67h3.6M188.88 591.06h3.6M193.91 564.25V587.01M192.11 564.25h3.6M192.11 587.01h3.6M197.14 563.55V587.43M195.34 563.55h3.6M195.34 587.43h3.6M200.37 564.52V587.59M198.57 564.52h3.6M198.57 587.59h3.6M203.6 562.05V585.82M201.8 562.05h3.6M201.8 585.82h3.6M206.83 565.8V588.57M205.03 565.8h3.6M205.03 588.57h3.6M210.06 568.65V588.97M208.26 568.65h3.6M208.26 588.97h3.6M213.29 568.1V586.98M211.49 568.1h3.6M211.49 586.98h3.6M216.52 568.75V588.44M214.72 568.75h3.6M214.72 588.44h3.6M219.75 565.45V585.81M217.95 565.45h3.6M217.95 585.81h3.6M222.98 568.46V590M221.18 568.46h3.6M221.18 590h3.6M226.21 566.39V587.98M224.41 566.39h3.6M224.41 587.98h3.6M229.44 564.87V587.24M227.64 564.87h3.6M227.64 587.24h3.6M232.67 564.05V586.08M230.87 564.05h3.6M230.87 586.08h3.6M235.9 563.44V586.69M234.1 563.44h3.6M234.1 586.69h3.6" stroke="#e5e5e5" stroke-width="1" fill="none"/>
<path d="M39.2 468.1V609.4H235.9M39.2 609.4h-2.3M39.2 581.14h-2.3M39.2 552.88h-2.3M39.2 524.62h-2.3M39.2 496.36h-2.3M39.2 468.1h-2.3M42.1 609.4v2.3M74.4 609.4v2.3M106.7 609.4v2.3M139 609.4v2.3M171.3 609.4v2.3M203.6 609.4v2.3M235.9 609.4v2.3" stroke="#7d7d7d" stroke-width="1.1" fill="none"/>
<polyline points="38.87,468.1 42.1,595.55 45.33,591.31 48.56,589.34 51.79,587.64 55.02,590.89 58.25,589.34 61.48,587.64 64.71,589.34 67.94,587.64 71.17,586.23 74.4,588.06 77.63,586.65 80.86,587.07 84.09,586.23 87.32,584.11 90.55,586.23 93.78,586.65 97.01,586.23 100.24,584.53 103.47,584.96 106.7,583.97 109.93,581.99 113.16,582.84 116.39,583.47 119.62,582.41 122.85,583.05 126.08,584.53 129.31,583.05 132.54,583.05 135.77,583.97 139,580.93 142.23,582.41 145.46,582.41 148.69,579.23 151.92,581.35 155.15,582.84 158.38,581.35 161.61,578.17 164.84,579.87 168.07,578.6 171.3,579.23 174.53,578.6 177.76,579.87 180.99,577.18 184.22,578.17 187.45,575.49 190.68,579.87 193.91,575.63 197.14,575.49 200.37,576.05 203.6,573.93 206.83,577.18 210.06,578.81 213.29,577.54 216.52,578.6 219.75,575.63 222.98,579.23 226.21,577.18 229.44,576.05 232.67,575.06 235.9,575.06" stroke="#8a8a8a" stroke-width="0.9" fill="none"/>
<circle cx="38.87" cy="468.1" r="2.25"/>
<circle cx="42.1" cy="595.55" r="2.25"/>
<circle cx="45.33" cy="591.31" r="2.25"/>
<circle cx="48.56" cy="589.34" r="2.25"/>
<circle cx="51.79" cy="587.64" r="2.25"/>
<circle cx="55.02" cy="590.89" r="2.25"/>
<circle cx="58.25" cy="589.34" r="2.25"/>
<circle cx="61.48" cy="587.64" r="2.25"/>
<circle cx="64.71" cy="589.34" r="2.25"/>
<circle cx="67.94" cy="587.64" r="2.25"/>
<circle cx="71.17" cy="586.23" r="2.25"/>
<circle cx="74.4" cy="588.06" r="2.25"/>
<circle cx="77.63" cy="586.65" r="2.25"/>
<circle cx="80.86" cy="587.07" r="2.25"/>
<circle cx="84.09" cy="586.23" r="2.25"/>
<circle cx="87.32" cy="584.11" r="2.25"/>
<circle cx="90.55" cy="586.23" r="2.25"/>
<circle cx="93.78" cy="586.65" r="2.25"/>
<circle cx="97.01" cy="586.23" r="2.25"/>
<circle cx="100.24" cy="584.53" r="2.25"/>
<circle cx="103.47" cy="584.96" r="2.25"/>
<circle cx="106.7" cy="583.97" r="2.25"/>
<circle cx="109.93" cy="581.99" r="2.25"/>
<circle cx="113.16" cy="582.84" r="2.25"/>
<circle cx="116.39" cy="583.47" r="2.25"/>
<circle cx="119.62" cy="582.41" r="2.25"/>
<circle cx="122.85" cy="583.05" r="2.25"/>
<circle cx="126.08" cy="584.53" r="2.25"/>
<circle cx="129.31" cy="583.05" r="2.25"/>
<circle cx="132.54" cy="583.05" r="2.25"/>
<circle cx="135.77" cy="583.97" r="2.25"/>
<circle cx="139" cy="580.93" r="2.25"/>
<circle cx="142.23" cy="582.41" r="2.25"/>
<circle cx="145.46" cy="582.41" r="2.25"/>
<circle cx="148.69" cy="579.23" r="2.25"/>
<circle cx="151.92" cy="581.35" r="2.25"/>
<circle cx="155.15" cy="582.84" r="2.25"/>
<circle cx="158.38" cy="581.35" r="2.25"/>
<circle cx="161.61" cy="578.17" r="2.25"/>
<circle cx="164.84" cy="579.87" r="2.25"/>
<circle cx="168.07" cy="578.6" r="2.25"/>
<circle cx="171.3" cy="579.23" r="2.25"/>
<circle cx="174.53" cy="578.6" r="2.25"/>
<circle cx="177.76" cy="579.87" r="2.25"/>
<circle cx="180.99" cy="577.18" r="2.25"/>
<circle cx="184.22" cy="578.17" r="2.25"/>
<circle cx="187.45" cy="575.49" r="2.25"/>
<circle cx="190.68" cy="579.87" r="2.25"/>
<circle cx="193.91" cy="575.63" r="2.25"/>
<circle cx="197.14" cy="575.49" r="2.25"/>
<circle cx="200.37" cy="576.05" r="2.25"/>
<circle cx="203.6" cy="573.93" r="2.25"/>
<circle cx="206.83" cy="577.18" r="2.25"/>
<circle cx="210.06" cy="578.81" r="2.25"/>
<circle cx="213.29" cy="577.54" r="2.25"/>
<circle cx="216.52" cy="578.6" r="2.25"/>
<circle cx="219.75" cy="575.63" r="2.25"/>
<circle cx="222.98" cy="579.23" r="2.25"/>
<circle cx="226.21" cy="577.18" r="2.25"/>
<circle cx="229.44" cy="576.05" r="2.25"/>
<circle cx="232.67" cy="575.06" r="2.25"/>
<circle cx="235.9" cy="575.06" r="2.25"/>
<g font-size="12.9" fill="#080808" stroke="#080808" stroke-width="0.3">
<text x="37.6" y="614.8" font-size="12.9" text-anchor="end">0.0</text>
<text x="37.6" y="586.36" font-size="12.9" text-anchor="end">0.2</text>
<text x="37.6" y="557.92" font-size="12.9" text-anchor="end">0.4</text>
<text x="37.6" y="529.48" font-size="12.9" text-anchor="end">0.6</text>
<text x="37.6" y="501.04" font-size="12.9" text-anchor="end">0.8</text>
<text x="37.6" y="472.6" font-size="12.9" text-anchor="end">1.0</text>
<text x="42.4" y="626.9" font-size="12.9" text-anchor="middle">0</text>
<text x="74.6" y="626.9" font-size="12.9" text-anchor="middle">50</text>
<text x="106.9" y="626.9" font-size="12.9" text-anchor="middle">100</text>
<text x="139.2" y="626.9" font-size="12.9" text-anchor="middle">150</text>
<text x="171.5" y="626.9" font-size="12.9" text-anchor="middle">200</text>
<text x="203.8" y="626.9" font-size="12.9" text-anchor="middle">250</text>
<text x="236.1" y="626.9" font-size="12.9" text-anchor="middle">300</text>
</g>
</g>
<g id="chartF">
<path d="M313.8 587.9V602.42M312 587.9h3.6M312 602.42h3.6M317.03 586.37V600.84M315.23 586.37h3.6M315.23 600.84h3.6M320.26 587.23V601.68M318.46 587.23h3.6M318.46 601.68h3.6M323.49 586.16V600.78M321.69 586.16h3.6M321.69 600.78h3.6M326.72 585.95V600.14M324.92 585.95h3.6M324.92 600.14h3.6M329.95 585.24V600.84M328.15 585.24h3.6M328.15 600.84h3.6M333.18 585.59V601.63M331.38 585.59h3.6M331.38 601.63h3.6M336.41 582.45V599.41M334.61 582.45h3.6M334.61 599.41h3.6M339.64 581.24V598.36M337.84 581.24h3.6M337.84 598.36h3.6M342.87 580.48V597.15M341.07 580.48h3.6M341.07 597.15h3.6M346.1 581.83V599.18M344.3 581.83h3.6M344.3 599.18h3.6M349.33 581.93V599.08M347.53 581.93h3.6M347.53 599.08h3.6M352.56 582.42V599.44M350.76 582.42h3.6M350.76 599.44h3.6M355.79 579.77V597.86M353.99 579.77h3.6M353.99 597.86h3.6M359.02 582.62V600.08M357.22 582.62h3.6M357.22 600.08h3.6M362.25 581.89V599.97M360.45 581.89h3.6M360.45 599.97h3.6M365.48 580.05V598.7M363.68 580.05h3.6M363.68 598.7h3.6M368.71 578.34V597.03M366.91 578.34h3.6M366.91 597.03h3.6M371.94 582.26V600.73M370.14 582.26h3.6M370.14 600.73h3.6M375.17 581.1V599.91M373.37 581.1h3.6M373.37 599.91h3.6M378.4 580.33V599.28M376.6 580.33h3.6M376.6 599.28h3.6M381.63 578.44V597.78M379.83 578.44h3.6M379.83 597.78h3.6M384.86 578V596.53M383.06 578h3.6M383.06 596.53h3.6M388.09 577.65V596.87M386.29 577.65h3.6M386.29 596.87h3.6M391.32 576.78V595.77M389.52 576.78h3.6M389.52 595.77h3.6M394.55 574.95V594.22M392.75 574.95h3.6M392.75 594.22h3.6M397.78 578.01V598.21M395.98 578.01h3.6M395.98 598.21h3.6M401.01 574.13V594.2M399.21 574.13h3.6M399.21 594.2h3.6M404.24 575.48V595.8M402.44 575.48h3.6M402.44 595.8h3.6M407.47 573.14V593.92M405.67 573.14h3.6M405.67 593.92h3.6M410.7 572.94V594.12M408.9 572.94h3.6M408.9 594.12h3.6M413.93 574.17V594.15M412.13 574.17h3.6M412.13 594.15h3.6M417.16 574.74V594.43M415.36 574.74h3.6M415.36 594.43h3.6M420.39 574.02V593.03M418.59 574.02h3.6M418.59 593.03h3.6M423.62 574.28V592.77M421.82 574.28h3.6M421.82 592.77h3.6M426.85 575.05V593.27M425.05 575.05h3.6M425.05 593.27h3.6M430.08 573.69V591.25M428.28 573.69h3.6M428.28 591.25h3.6M433.31 575.5V592.82M431.51 575.5h3.6M431.51 592.82h3.6M436.54 575.08V591.97M434.74 575.08h3.6M434.74 591.97h3.6M439.77 575.03V592.02M437.97 575.03h3.6M437.97 592.02h3.6M443 576.45V592.72M441.2 576.45h3.6M441.2 592.72h3.6M446.23 579.1V596.27M444.43 579.1h3.6M444.43 596.27h3.6M449.46 571.58V591.25M447.66 571.58h3.6M447.66 591.25h3.6M452.69 572.4V592.54M450.89 572.4h3.6M450.89 592.54h3.6M455.92 571.38V592.71M454.12 571.38h3.6M454.12 592.71h3.6M459.15 571.55V594.23M457.35 571.55h3.6M457.35 594.23h3.6M462.38 573.42V594.91M460.58 573.42h3.6M460.58 594.91h3.6M465.61 573.15V592.63M463.81 573.15h3.6M463.81 592.63h3.6M468.84 576.34V594.94M467.04 576.34h3.6M467.04 594.94h3.6M472.07 573.54V592.24M470.27 573.54h3.6M470.27 592.24h3.6M475.3 575.64V593.53M473.5 575.64h3.6M473.5 593.53h3.6M478.53 575.69V593.48M476.73 575.69h3.6M476.73 593.48h3.6M481.76 573.97V592.23M479.96 573.97h3.6M479.96 592.23h3.6M484.99 571.4V591.43M483.19 571.4h3.6M483.19 591.43h3.6M488.22 572.52V593.69M486.42 572.52h3.6M486.42 593.69h3.6M491.45 570.46V592.36M489.65 570.46h3.6M489.65 592.36h3.6M494.68 571.94V592.99M492.88 571.94h3.6M492.88 592.99h3.6M497.91 570.96V593.13M496.11 570.96h3.6M496.11 593.13h3.6M501.14 569.94V592.04M499.34 569.94h3.6M499.34 592.04h3.6M504.37 570.29V591.26M502.57 570.29h3.6M502.57 591.26h3.6M507.6 570.98V592.69M505.8 570.98h3.6M505.8 592.69h3.6" stroke="#e5e5e5" stroke-width="1" fill="none"/>
<path d="M310.8 468.4V609.4H507.6M310.8 609.4h-2.3M310.8 581.2h-2.3M310.8 553h-2.3M310.8 524.8h-2.3M310.8 496.6h-2.3M310.8 468.4h-2.3M313.8 609.4v2.3M346.1 609.4v2.3M378.4 609.4v2.3M410.7 609.4v2.3M443 609.4v2.3M475.3 609.4v2.3M507.6 609.4v2.3" stroke="#7d7d7d" stroke-width="1.1" fill="none"/>
<polyline points="310.57,468.4 313.8,595.16 317.03,593.61 320.26,594.45 323.49,593.47 326.72,593.04 329.95,593.04 333.18,593.61 336.41,590.93 339.64,589.8 342.87,588.81 346.1,590.51 349.33,590.51 352.56,590.93 355.79,588.81 359.02,591.35 362.25,590.93 365.48,589.38 368.71,587.69 371.94,591.49 375.17,590.51 378.4,589.8 381.63,588.11 384.86,587.26 388.09,587.26 391.32,586.28 394.55,584.58 397.78,588.11 401.01,584.16 404.24,585.64 407.47,583.53 410.7,583.53 413.93,584.16 417.16,584.58 420.39,583.53 423.62,583.53 426.85,584.16 430.08,582.47 433.31,584.16 436.54,583.53 439.77,583.53 443,584.58 446.23,587.69 449.46,581.41 452.69,582.47 455.92,582.05 459.15,582.89 462.38,584.16 465.61,582.89 468.84,585.64 472.07,582.89 475.3,584.58 478.53,584.58 481.76,583.1 484.99,581.41 488.22,583.1 491.45,581.41 494.68,582.47 497.91,582.05 501.14,580.99 504.37,580.78 507.6,581.83" stroke="#8a8a8a" stroke-width="0.9" fill="none"/>
<circle cx="310.57" cy="468.4" r="2.25"/>
<circle cx="313.8" cy="595.16" r="2.25"/>
<circle cx="317.03" cy="593.61" r="2.25"/>
<circle cx="320.26" cy="594.45" r="2.25"/>
<circle cx="323.49" cy="593.47" r="2.25"/>
<circle cx="326.72" cy="593.04" r="2.25"/>
<circle cx="329.95" cy="593.04" r="2.25"/>
<circle cx="333.18" cy="593.61" r="2.25"/>
<circle cx="336.41" cy="590.93" r="2.25"/>
<circle cx="339.64" cy="589.8" r="2.25"/>
<circle cx="342.87" cy="588.81" r="2.25"/>
<circle cx="346.1" cy="590.51" r="2.25"/>
<circle cx="349.33" cy="590.51" r="2.25"/>
<circle cx="352.56" cy="590.93" r="2.25"/>
<circle cx="355.79" cy="588.81" r="2.25"/>
<circle cx="359.02" cy="591.35" r="2.25"/>
<circle cx="362.25" cy="590.93" r="2.25"/>
<circle cx="365.48" cy="589.38" r="2.25"/>
<circle cx="368.71" cy="587.69" r="2.25"/>
<circle cx="371.94" cy="591.49" r="2.25"/>
<circle cx="375.17" cy="590.51" r="2.25"/>
<circle cx="378.4" cy="589.8" r="2.25"/>
<circle cx="381.63" cy="588.11" r="2.25"/>
<circle cx="384.86" cy="587.26" r="2.25"/>
<circle cx="388.09" cy="587.26" r="2.25"/>
<circle cx="391.32" cy="586.28" r="2.25"/>
<circle cx="394.55" cy="584.58" r="2.25"/>
<circle cx="397.78" cy="588.11" r="2.25"/>
<circle cx="401.01" cy="584.16" r="2.25"/>
<circle cx="404.24" cy="585.64" r="2.25"/>
<circle cx="407.47" cy="583.53" r="2.25"/>
<circle cx="410.7" cy="583.53" r="2.25"/>
<circle cx="413.93" cy="584.16" r="2.25"/>
<circle cx="417.16" cy="584.58" r="2.25"/>
<circle cx="420.39" cy="583.53" r="2.25"/>
<circle cx="423.62" cy="583.53" r="2.25"/>
<circle cx="426.85" cy="584.16" r="2.25"/>
<circle cx="430.08" cy="582.47" r="2.25"/>
<circle cx="433.31" cy="584.16" r="2.25"/>
<circle cx="436.54" cy="583.53" r="2.25"/>
<circle cx="439.77" cy="583.53" r="2.25"/>
<circle cx="443" cy="584.58" r="2.25"/>
<circle cx="446.23" cy="587.69" r="2.25"/>
<circle cx="449.46" cy="581.41" r="2.25"/>
<circle cx="452.69" cy="582.47" r="2.25"/>
<circle cx="455.92" cy="582.05" r="2.25"/>
<circle cx="459.15" cy="582.89" r="2.25"/>
<circle cx="462.38" cy="584.16" r="2.25"/>
<circle cx="465.61" cy="582.89" r="2.25"/>
<circle cx="468.84" cy="585.64" r="2.25"/>
<circle cx="472.07" cy="582.89" r="2.25"/>
<circle cx="475.3" cy="584.58" r="2.25"/>
<circle cx="478.53" cy="584.58" r="2.25"/>
<circle cx="481.76" cy="583.1" r="2.25"/>
<circle cx="484.99" cy="581.41" r="2.25"/>
<circle cx="488.22" cy="583.1" r="2.25"/>
<circle cx="491.45" cy="581.41" r="2.25"/>
<circle cx="494.68" cy="582.47" r="2.25"/>
<circle cx="497.91" cy="582.05" r="2.25"/>
<circle cx="501.14" cy="580.99" r="2.25"/>
<circle cx="504.37" cy="580.78" r="2.25"/>
<circle cx="507.6" cy="581.83" r="2.25"/>
<g font-size="12.9" fill="#080808" stroke="#080808" stroke-width="0.3">
<text x="308.9" y="614.8" font-size="12.9" text-anchor="end">0.0</text>
<text x="308.9" y="586.38" font-size="12.9" text-anchor="end">0.2</text>
<text x="308.9" y="557.96" font-size="12.9" text-anchor="end">0.4</text>
<text x="308.9" y="529.54" font-size="12.9" text-anchor="end">0.6</text>
<text x="308.9" y="501.12" font-size="12.9" text-anchor="end">0.8</text>
<text x="308.9" y="472.7" font-size="12.9" text-anchor="end">1.0</text>
<text x="314.1" y="624.5" font-size="12.9" text-anchor="middle">0</text>
<text x="346.3" y="624.5" font-size="12.9" text-anchor="middle">50</text>
<text x="378.6" y="624.5" font-size="12.9" text-anchor="middle">100</text>
<text x="410.9" y="624.5" font-size="12.9" text-anchor="middle">150</text>
<text x="443.2" y="624.5" font-size="12.9" text-anchor="middle">200</text>
<text x="475.5" y="624.5" font-size="12.9" text-anchor="middle">250</text>
<text x="507.8" y="624.5" font-size="12.9" text-anchor="middle">300</text>
</g>
</g>
<g fill="#080808" stroke="#080808" stroke-width="0.3">
<text x="411.9" y="203.8" font-size="12.7" text-anchor="middle" textLength="54.8" lengthAdjust="spacingAndGlyphs">time [sec]</text>
<text x="143.7" y="434.3" font-size="12.7" text-anchor="middle" textLength="55.6" lengthAdjust="spacingAndGlyphs">time [sec]</text>
<text x="413.3" y="434.6" font-size="12.7" text-anchor="middle" textLength="55.6" lengthAdjust="spacingAndGlyphs">time [sec]</text>
<text x="140.6" y="645.4" font-size="12.7" text-anchor="middle" textLength="55.6" lengthAdjust="spacingAndGlyphs">time [sec]</text>
<text x="412.1" y="643.6" font-size="12.7" text-anchor="middle" textLength="55.6" lengthAdjust="spacingAndGlyphs">time [sec]</text>
<text x="427.5" y="121.5" font-size="12.6" text-anchor="middle" textLength="38" lengthAdjust="spacingAndGlyphs">control</text>
<text x="152.7" y="281.1" font-size="12.8" text-anchor="middle" textLength="112" lengthAdjust="spacingAndGlyphs">100 nM nocodazole</text>
<text x="406.9" y="261.6" font-size="12.5" text-anchor="middle" textLength="69.2" lengthAdjust="spacingAndGlyphs">1 mM EHNA</text>
<text x="137.2" y="472.4" font-size="12.6" text-anchor="middle" textLength="116.9" lengthAdjust="spacingAndGlyphs">100 µM Ciliobrevin D</text>
<text x="414" y="473.6" font-size="12.6" text-anchor="middle" textLength="65" lengthAdjust="spacingAndGlyphs">10 µM taxol</text>
<text x="267.3" y="97.5" font-size="12.6" text-anchor="middle" textLength="193" lengthAdjust="spacingAndGlyphs" transform="rotate(-90 267.3 97.5)">Normalized fluorescence intensity</text>
<text x="283.2" y="97.9" font-size="12.3" text-anchor="middle" textLength="30.2" lengthAdjust="spacingAndGlyphs" transform="rotate(-90 283.2 97.9)">(NFI)</text>
<text x="13.5" y="328.1" font-size="12.6" text-anchor="middle" textLength="20.2" lengthAdjust="spacingAndGlyphs" transform="rotate(-90 13.5 328.1)">NFI</text>
<text x="283.3" y="328" font-size="12.6" text-anchor="middle" textLength="20.2" lengthAdjust="spacingAndGlyphs" transform="rotate(-90 283.3 328)">NFI</text>
<text x="12.9" y="538.2" font-size="12.6" text-anchor="middle" textLength="20.2" lengthAdjust="spacingAndGlyphs" transform="rotate(-90 12.9 538.2)">NFI</text>
<text x="283.9" y="538.2" font-size="12.6" text-anchor="middle" textLength="20.2" lengthAdjust="spacingAndGlyphs" transform="rotate(-90 283.9 538.2)">NFI</text>
</g>
<g id="insetC">
<rect x="61.9" y="177.8" width="111.6" height="81.6" fill="#fff" stroke="#1c1c1c" stroke-width="1.2"/>
<path d="M79.8 185.2V243.7H163.2M79.8 186.4h-1.3M79.8 243.7h-1.3M80.6 243.7v1.2M94.37 243.7v1.2M108.13 243.7v1.2M121.9 243.7v1.2M135.67 243.7v1.2M149.43 243.7v1.2M163.2 243.7v1.2" fill="none" stroke="#8a8a8a" stroke-width="0.8"/>
<path d="M79.77 186.4L80.6 236.25M79.77 186.4L80.6 232.81" fill="none" stroke="#8e8e8e" stroke-width="0.9"/>
<polyline points="80.6,236.19 81.15,233.59 81.7,230.99 82.25,229.04 82.8,227.93 83.35,226.71 83.9,226.43 84.45,225.74 85.01,224.81 85.56,224.14 86.11,223.32 86.66,223.25 87.21,222.82 87.76,222.52 88.31,221.99 88.86,221.49 89.41,221.35 89.96,220.96 90.51,220.52 91.06,219.69 91.61,219.14 92.16,219.22 92.71,218.75 93.27,218.82 93.82,218.44 94.37,218.45 94.92,218.44 95.47,217.75 96.02,217.72 96.57,217.59 97.12,216.89 97.67,216.5 98.22,216.61 98.77,216.1 99.32,216.03 99.87,215.8 100.42,215.93 100.97,215.36 101.53,215.15 102.08,214.72 102.63,214.45 103.18,214.79 103.73,214.9 104.28,215.07 104.83,215.15 105.38,215.22 105.93,215.03 106.48,214.63 107.03,214.88 107.58,214.41 108.13,214.4 108.68,214.19 109.23,213.49 109.79,213.28 110.34,213.18 110.89,212.85 111.44,212.45 111.99,212.75 112.54,211.99 113.09,212.37 113.64,211.83 114.19,211.88 114.74,212.85 115.29,212.8 115.84,213.33 116.39,213.57 116.94,213.85 117.49,213.86 118.05,213.64 118.6,212.63 119.15,212.74 119.7,212.13 120.25,211.51 120.8,211.04 121.35,211.31 121.9,211.35 122.45,211.27 123,210.94 123.55,211.47 124.1,211.04 124.65,210.74 125.2,210.48 125.75,211.24 126.31,210.62 126.86,211.22 127.41,211.26 127.96,210.95 128.51,210.41 129.06,210.76 129.61,210.26 130.16,210.41 130.71,210.74 131.26,210.9 131.81,211.14 132.36,211.38 132.91,211.4 133.46,210.74 134.01,209.97 134.57,210.57 135.12,211.02 135.67,210.07 136.22,210.1 136.77,210.26 137.32,210.53 137.87,210.22 138.42,209.73 138.97,209.92 139.52,210.04 140.07,210.55 140.62,209.72 141.17,210.37 141.72,210.12 142.27,209.53 142.83,210.08 143.38,209.6 143.93,209.04 144.48,209.12 145.03,208.95 145.58,209.69 146.13,209.67 146.68,209.99 147.23,209.28 147.78,209.56 148.33,209.49 148.88,208.75 149.43,208.51 149.98,208.2 150.53,208.67 151.09,208.86 151.64,208.65 152.19,208.82 152.74,209.07 153.29,209.01 153.84,209.25 154.39,209.04 154.94,208.1 155.49,207.57 156.04,207.64 156.59,207.97 157.14,208.54 157.69,209.28 158.24,209.56 158.79,209.17 159.35,208.84 159.9,209.23 160.45,208.91 161,208.75 161.55,208.76 162.1,208.81 162.65,208.71 163.2,209.16" fill="none" stroke="#8c8c8c" stroke-width="1.3" stroke-linejoin="round"/>
<polyline points="80.6,232.83 81.15,231.05 81.7,229.36 82.25,227.71 82.8,227.06 83.35,226.05 83.9,225.22 84.45,224.93 85.01,224.27 85.56,223.61 86.11,223.3 86.66,222.87 87.21,222.26 87.76,221.89 88.31,221.35 88.86,221.21 89.41,220.9 89.96,220.63 90.51,220.06 91.06,219.3 91.61,218.92 92.16,218.57 92.71,218.54 93.27,218.17 93.82,218.3 94.37,218.15 94.92,217.69 95.47,217.3 96.02,217.2 96.57,217.28 97.12,217.1 97.67,216.96 98.22,216.75 98.77,216.14 99.32,216.18 99.87,215.58 100.42,215.17 100.97,215.5 101.53,215.34 102.08,215.07 102.63,215.21 103.18,214.9 103.73,214.25 104.28,214.48 104.83,214.12 105.38,214.26 105.93,213.86 106.48,213.28 107.03,213.5 107.58,213.72 108.13,213.71 108.68,213.21 109.23,213.35 109.79,213.3 110.34,212.81 110.89,212.06 111.44,212.06 111.99,212.01 112.54,211.67 113.09,211.96 113.64,211.56 114.19,211.68 114.74,211.24 115.29,210.56 115.84,211.06 116.39,210.74 116.94,210.44 117.49,210.69 118.05,210.64 118.6,209.75 119.15,209.18 119.7,209.78 120.25,209.39 120.8,208.84 121.35,209.27 121.9,209.02 122.45,209.48 123,209.29 123.55,208.76 124.1,208.51 124.65,208.08 125.2,208.63 125.75,208.57 126.31,207.86 126.86,207.76 127.41,207.81 127.96,207.85 128.51,207.09 129.06,207.14 129.61,207.82 130.16,207.15 130.71,207.33 131.26,207.24 131.81,207.43 132.36,207.18 132.91,207.15 133.46,207.4 134.01,206.77 134.57,207.08 135.12,206.27 135.67,206.81 136.22,206.04 136.77,205.54 137.32,205.64 137.87,205.37 138.42,205.81 138.97,205.33 139.52,205.46 140.07,205.75 140.62,204.86 141.17,205.1 141.72,205.23 142.27,204.59 142.83,204.87 143.38,204.57 143.93,205.04 144.48,204.29 145.03,204.61 145.58,205.02 146.13,203.9 146.68,204.32 147.23,203.43 147.78,202.82 148.33,202.94 148.88,203.76 149.43,204.08 149.98,203.98 150.53,203.61 151.09,203.03 151.64,202.15 152.19,202.44 152.74,202.83 153.29,202.39 153.84,202.78 154.39,203.16 154.94,202.76 155.49,202.38 156.04,203.08 156.59,202.96 157.14,202.58 157.69,202.33 158.24,202.64 158.79,202.11 159.35,202.79 159.9,202.4 160.45,202.09 161,201.76 161.55,202.1 162.1,202.82 162.65,203.27 163.2,202.84" fill="none" stroke="#0c0c0c" stroke-width="1.7" stroke-linejoin="round"/>
<g font-size="7" fill="#141414" stroke="#141414" stroke-width="0.2">
<text x="77.0" y="188.9" text-anchor="end" font-size="6.6">1.0</text>
<text x="77.6" y="246.3" text-anchor="end" font-size="6.6">0</text>
<text x="81.2" y="251.2" text-anchor="middle" font-size="6.6">0</text>
<text x="163.0" y="251.5" text-anchor="middle" font-size="7" textLength="11.5" lengthAdjust="spacingAndGlyphs">300</text>
<text x="128.1" y="257.4" text-anchor="middle" font-size="7.2" textLength="30.8" lengthAdjust="spacingAndGlyphs">time [sec]</text>
<text x="145.3" y="195.8" text-anchor="middle" font-size="7.2" textLength="21.6" lengthAdjust="spacingAndGlyphs">control</text>
<text x="142.9" y="220.5" text-anchor="middle" font-size="7.3" fill="#7a7a7a" stroke="#7a7a7a" textLength="37.4" lengthAdjust="spacingAndGlyphs">nocodazole</text>
<text x="69.6" y="216.4" text-anchor="middle" font-size="6.6" transform="rotate(-90 69.6 216.4)" textLength="10.6" lengthAdjust="spacingAndGlyphs">NFI</text>
</g>
</g>
</g>
</svg>
</body></html>
